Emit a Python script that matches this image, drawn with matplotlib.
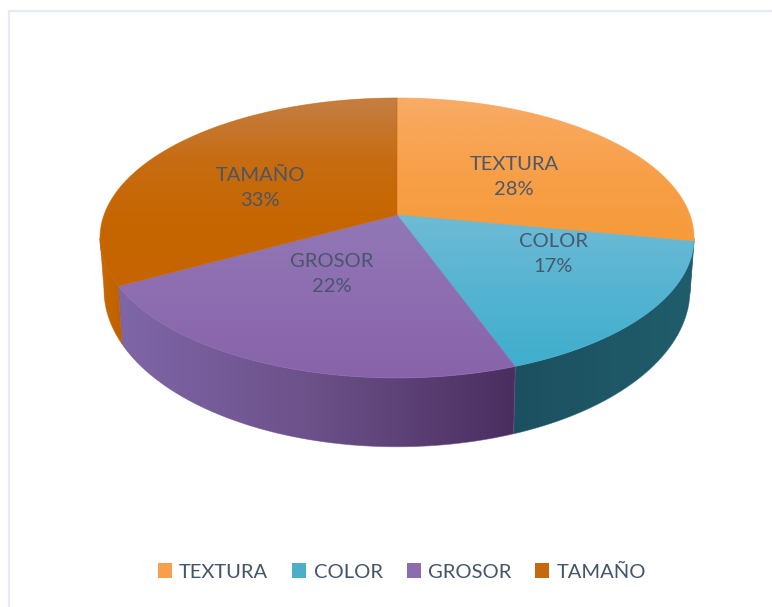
"""3D-style pie of the four attributes, with a perspective top face and a shaded rim."""

import numpy as np
import matplotlib
matplotlib.use("Agg")
import matplotlib.pyplot as plt
from matplotlib.colors import LinearSegmentedColormap
from matplotlib.patches import Patch, Polygon

LABELS = ["TEXTURA", "COLOR", "GROSOR", "TAMAÑO"]
VALUES = [28, 17, 22, 33]

SWATCHES = ["#F79F4C", "#4BAFCC", "#8C6BB1", "#C5680E"]
TOP_SHADES = [
    ["#F8AC66", "#F8A04A", "#F69A3A"],
    ["#6FBBD5", "#55B4D2", "#3FAECD"],
    ["#9178B5", "#8E6DB1", "#8863A9"],
    ["#C47F45", "#C76C12", "#C66600", "#C56400"],
]
WALL_SHADES = [
    ["#1F5C6A", "#1F5C6A"],
    ["#1C5060", "#205D6C"],
    ["#7F66A8", "#6B5088", "#4A2E60"],
    ["#C86A06", "#BF5F00"],
]
TEXT_COLOR = "#44546A"
FRAME_COLOR = "#E6EBF3"

# label text positions, pixels
LABEL_POS = [(514, 177), (553, 254), (332, 274), (260, 188)]

# projection of the unit disc onto the page
CX, TOP_Y, LOW_Y = 397, 215, 264
SCALE_X_TOP, SCALE_X_LOW = 293, 289
SCALE_TOP, SCALE_LOW = 136.2, 152.8
TILT = 0.164
# where each rim reaches its widest point
SIDE_LEFT, SIDE_RIGHT = 99.4, 260.6


def project(angle_deg, level_y, scale_x, scale_y):
    # angles run clockwise from 12 o'clock; the front seam leans a little to the right
    skew = 2.0 * np.sin(np.pi * np.clip(angle_deg - 100.8, 0, 140.4) / 140.4)
    a = np.radians(angle_deg - skew)
    u, v = np.sin(a), np.cos(a)
    d = 1 + TILT * v
    return np.column_stack([CX + scale_x * u / d, level_y - scale_y * v / d])


def shaded_poly(ax, points, shades, z, horizontal=False):
    cmap = LinearSegmentedColormap.from_list("shade", shades)
    x0, y0 = points.min(axis=0)
    x1, y1 = points.max(axis=0)
    ramp = np.linspace(0, 1, 256)
    ramp = ramp[None, :] if horizontal else ramp[:, None]
    img = ax.imshow(ramp, cmap=cmap, extent=(x0, x1, y1, y0), aspect="auto",
                    interpolation="bilinear", zorder=z)
    clip = Polygon(points, closed=True, transform=ax.transData, fc="none", ec="none")
    ax.add_patch(clip)
    img.set_clip_path(clip)
    # soften the hard clip edge
    ax.add_patch(Polygon(points, closed=True, fc="none", ec=shades[len(shades) // 2],
                         lw=0.6, alpha=0.6, zorder=z + 0.1))


def main():
    fig = plt.figure(figsize=(7.72, 6.07), dpi=100)

    # slice angles come from a normal pie call on a throwaway axes
    scratch = fig.add_axes([0, 0, 0.1, 0.1])
    wedges, _ = scratch.pie(VALUES, startangle=90, counterclock=False)
    ends = np.cumsum([abs(w.theta2 - w.theta1) for w in wedges])
    starts = np.concatenate([[0], ends[:-1]])
    angles = list(zip(starts, ends))
    scratch.remove()

    ax = fig.add_axes([0, 0, 1, 1])

    # chart border, top and left only
    ax.plot([9, 9, 772], [606, 10.5, 10.5], color=FRAME_COLOR, lw=1.6, zorder=-1)

    # rim first, only the part facing the viewer
    for i, ((lo, hi), shades) in enumerate(zip(angles, WALL_SHADES)):
        lo, hi = max(lo, SIDE_LEFT), min(hi, SIDE_RIGHT)
        if hi <= lo:
            continue
        t = np.linspace(lo, hi, 120)
        upper = project(t, TOP_Y, SCALE_X_TOP, SCALE_TOP)
        lower = project(t, LOW_Y, SCALE_X_LOW, SCALE_LOW)
        shaded_poly(ax, np.vstack([upper, lower[::-1]]), shades, 1 + i, horizontal=True)

    # top face
    apex = np.array([[CX, TOP_Y]])
    for i, ((lo, hi), shades) in enumerate(zip(angles, TOP_SHADES)):
        t = np.linspace(lo, hi, 160)
        rim = project(t, TOP_Y, SCALE_X_TOP, SCALE_TOP)
        shaded_poly(ax, np.vstack([apex, rim]), shades, 6 + i)

    for name, val, (x, y) in zip(LABELS, VALUES, LABEL_POS):
        ax.text(x, y, f"{name}\n{val}%", ha="center", va="center", color=TEXT_COLOR,
                fontsize=14.5, family="Lato", linespacing=1.6, alpha=0.95, zorder=12)

    handles = [Patch(fc=c, ec="none") for c in SWATCHES]
    ax.legend(handles, LABELS, loc="center", bbox_to_anchor=(402 / 772, 1 - 572 / 607),
              ncol=4, frameon=False, handlelength=0.7, handleheight=0.7, handletextpad=0.35,
              columnspacing=1.2, labelcolor=TEXT_COLOR, prop={"family": "Lato", "size": 14.5})

    ax.set_xlim(0, 772)
    ax.set_ylim(607, 0)
    ax.axis("off")

    fig.savefig("out.png", dpi=100)
    plt.close(fig)


if __name__ == "__main__":
    main()
